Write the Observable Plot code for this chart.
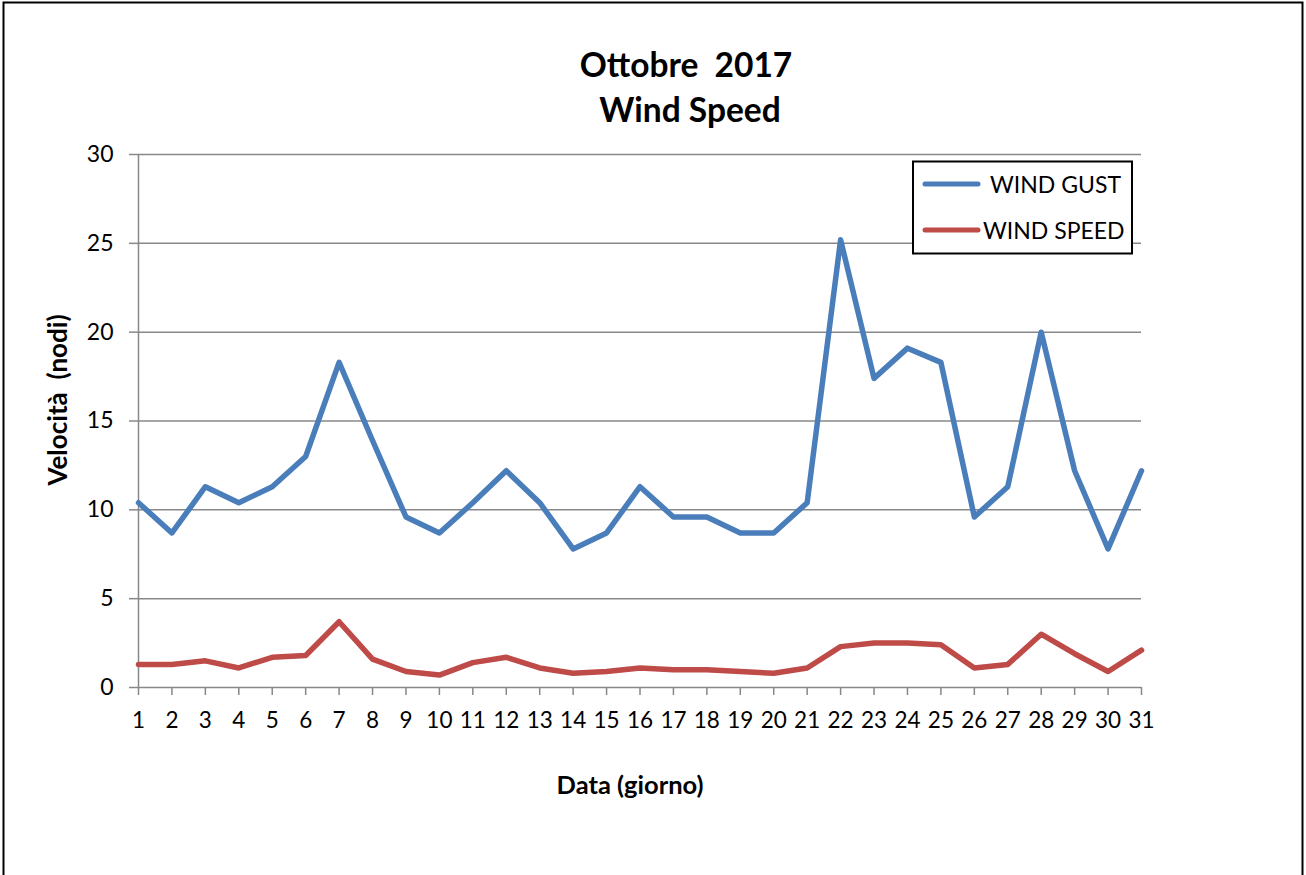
<!DOCTYPE html>
<html>
<head>
<meta charset="utf-8">
<script src="https://cdn.jsdelivr.net/npm/d3@7"></script>
<script src="https://cdn.jsdelivr.net/npm/@observablehq/plot@0.6"></script>
<style>
  html, body { margin: 0; padding: 0; background: #fff; }
  #chart svg { display: block; }
</style>
</head>
<body>
<div id="chart"></div>
<script>
// ---- Data ----
const days = [1,2,3,4,5,6,7,8,9,10,11,12,13,14,15,16,17,18,19,20,21,22,23,24,25,26,27,28,29,30,31];
const windGust = [10.4,8.7,11.3,10.4,11.3,13.0,18.3,13.9,9.6,8.7,10.4,12.2,10.4,7.8,8.7,11.3,9.6,9.6,8.7,8.7,10.4,25.2,17.4,19.1,18.3,9.6,11.3,20.0,12.2,7.8,12.2];
const windSpeed = [1.3,1.3,1.5,1.1,1.7,1.8,3.7,1.6,0.9,0.7,1.4,1.7,1.1,0.8,0.9,1.1,1.0,1.0,0.9,0.8,1.1,2.3,2.5,2.5,2.4,1.1,1.3,3.0,1.9,0.9,2.1];
const seriesNames = ["WIND GUST", "WIND SPEED"];
const seriesColors = ["#4a7ebb", "#be4b48"];
const yTicks = [0,5,10,15,20,25,30];
const titleLines = ["Ottobre  2017", "Wind Speed"];
const xLabel = "Data (giorno)";
const yLabel = "Velocità  (nodi)";

const rows = [];
days.forEach((d, i) => {
  rows.push({day: d, value: windGust[i], series: seriesNames[0]});
  rows.push({day: d, value: windSpeed[i], series: seriesNames[1]});
});

const W = 1306, H = 875;
const FONT = "Lato, 'Open Sans', sans-serif";
const grid = "#888888";

const chart = Plot.plot({
  width: W,
  height: H,
  marginLeft: 138,
  marginRight: 165,
  marginTop: 154,
  marginBottom: 188,
  style: {fontFamily: FONT, background: "#fff", color: "#000"},
  x: {domain: [1, 31], type: "linear"},
  y: {domain: [0, 30]},
  color: {domain: seriesNames, range: seriesColors},
  marks: [
    Plot.ruleY(yTicks.filter(t => t > 0), {stroke: grid, strokeWidth: 1.5}),
    Plot.axisY({ticks: yTicks, tickSize: 9, tickPadding: 16, fontSize: 23, stroke: grid, strokeWidth: 1.5, fill: "#000", label: null, tickFormat: d => String(d)}),
    Plot.axisX({ticks: days, tickSize: 8, tickPadding: 17, fontSize: 22.5, stroke: grid, strokeWidth: 1.5, fill: "#000", label: null, tickFormat: d => String(d)}),
    Plot.ruleX([1], {stroke: grid, strokeWidth: 1.5}),
    Plot.ruleY([0], {stroke: grid, strokeWidth: 1.5}),
    Plot.line(rows, {x: "day", y: "value", z: "series", stroke: "series", strokeWidth: 5.5, strokeLinejoin: "round", strokeLinecap: "round"})
  ]
});

const svg = d3.select(chart);

// outer border
svg.append("rect")
  .attr("x", 3.5).attr("y", 2.5).attr("width", 1299).attr("height", 900)
  .attr("fill", "none").attr("stroke", "#000").attr("stroke-width", 2);

// title
const tt = svg.append("text")
  .attr("text-anchor", "middle")
  .attr("font-family", FONT).attr("font-weight", "bold").attr("font-size", 33.5)
  .style("white-space", "pre").attr("xml:space", "preserve");
tt.append("tspan").attr("x", 686).attr("y", 77).text(titleLines[0]);
tt.append("tspan").attr("x", 690).attr("y", 122).text(titleLines[1]);

// axis titles
svg.append("text")
  .attr("x", 630).attr("y", 794)
  .attr("text-anchor", "middle")
  .attr("font-family", FONT).attr("font-weight", "bold").attr("font-size", 25.5)
  .text(xLabel);
svg.append("text")
  .attr("transform", "translate(67,400) rotate(-90)")
  .attr("text-anchor", "middle")
  .attr("font-family", FONT).attr("font-weight", "bold").attr("font-size", 26)
  .style("white-space", "pre").attr("xml:space", "preserve")
  .text(yLabel);

// legend
const lg = svg.append("g");
lg.append("rect")
  .attr("x", 913).attr("y", 161.5).attr("width", 219).attr("height", 92)
  .attr("fill", "#fff").attr("stroke", "#000").attr("stroke-width", 2);
const legY = [184, 230];
const legTextX = [990, 983];
seriesNames.forEach((name, i) => {
  lg.append("line")
    .attr("x1", 925).attr("x2", 978).attr("y1", legY[i]).attr("y2", legY[i])
    .attr("stroke", seriesColors[i]).attr("stroke-width", 5).attr("stroke-linecap", "round");
  lg.append("text")
    .attr("x", legTextX[i]).attr("y", legY[i] + 8.5)
    .attr("text-anchor", "start")
    .attr("font-family", FONT).attr("font-size", 23)
    .text(name);
});

document.getElementById("chart").appendChild(chart);
</script>
</body>
</html>
